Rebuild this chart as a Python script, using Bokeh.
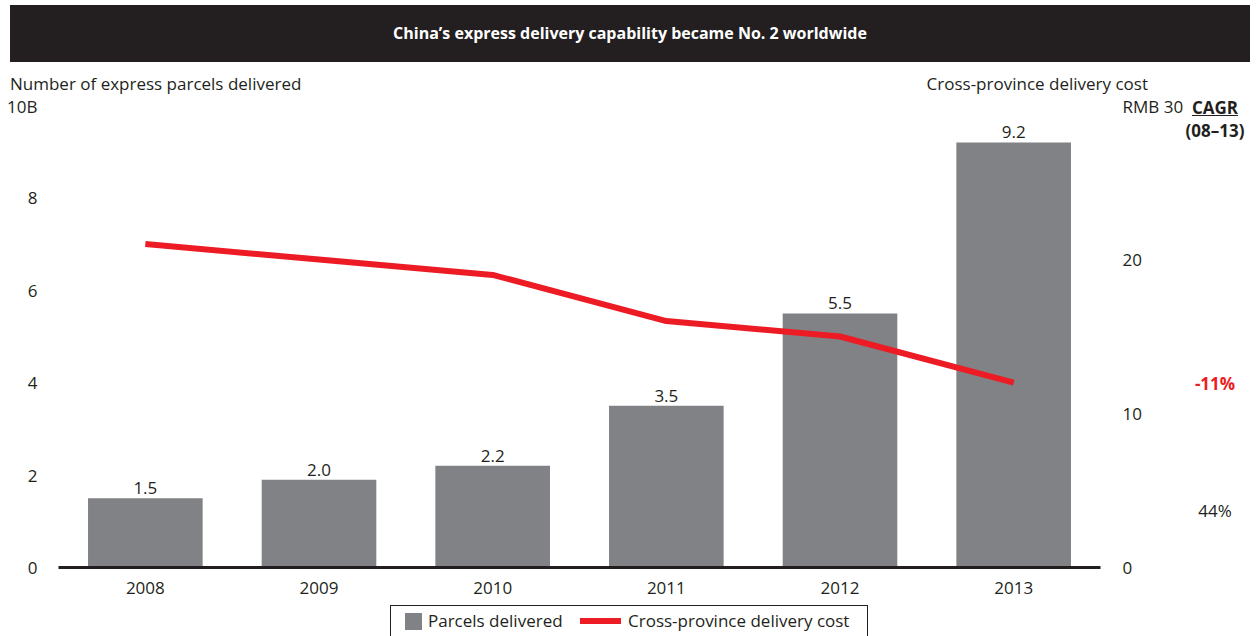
from bokeh.plotting import figure
from bokeh.models import (Range1d, LinearAxis, FixedTicker, ColumnDataSource, Div)
from bokeh.layouts import column, row
from bokeh.embed import file_html
from bokeh.resources import INLINE
from bokeh.core.properties import value

# ---------------- data ----------------
years = ["2008", "2009", "2010", "2011", "2012", "2013"]
parcels = [1.5, 1.9, 2.2, 3.5, 5.5, 9.2]
parcel_labels = ["1.5", "2.0", "2.2", "3.5", "5.5", "9.2"]
cost = [21, 20, 19, 16, 15, 12]
left_ticks = [0, 2, 4, 6, 8, 10]
left_top_label = "10B"
right_ticks = [0, 10, 20, 30]
right_top_label = "RMB 30"
title_text = "China\u2019s express delivery capability became No. 2 worldwide"
left_title = "Number of express parcels delivered"
right_title = "Cross-province delivery cost"
legend_labels = ["Parcels delivered", "Cross-province delivery cost"]
cagr_head = ["CAGR", "(08\u201313)"]
cagr_cost = "-11%"
cagr_parcels = "44%"

FONT = "Open Sans"
DARK = "#231f20"
GRAY = "#808285"
RED = "#ed1c24"

# ---------------- title bar ----------------
title_div = Div(text=title_text, width=1240, height=57, margin=(5, 10, 0, 10),
                styles={"background-color": DARK, "color": "white",
                        "font-family": FONT, "font-weight": "bold",
                        "font-size": "16px", "text-align": "center",
                        "line-height": "57px"})

# ---------------- axis titles line ----------------
sub_html = ('<div style="position:relative;width:1260px;height:32px;">'
            f'<div style="position:absolute;left:10px;top:10px;line-height:24px;white-space:nowrap;">{left_title}</div>'
            f'<div style="position:absolute;right:112px;top:10px;line-height:24px;white-space:nowrap;text-align:right;">{right_title}</div>'
            '</div>')
sub_div = Div(text=sub_html, width=1260, height=32, margin=0,
              styles={"font-family": FONT, "font-size": "17px", "color": DARK})

# ---------------- main figure ----------------
p = figure(x_range=years, y_range=Range1d(0, 10), width=1186, height=504,
           output_backend="svg", toolbar_location=None, margin=0,
           min_border_left=58, min_border_right=76, min_border_top=11,
           min_border_bottom=31)
p.extra_y_ranges = {"cost": Range1d(0, 30)}
p.outline_line_color = None
p.grid.grid_line_color = None

src = ColumnDataSource(dict(x=years, top=parcels, lab=parcel_labels, cost=cost))
bars = p.vbar(x="x", top="top", width=0.66, source=src, color=GRAY, line_color=None)
line = p.line(x="x", y="cost", source=src, y_range_name="cost", line_width=6, color=RED)
p.text(x="x", y="top", text="lab", source=src, y_offset=-4, text_align="center",
       text_baseline="bottom", text_font=value(FONT), text_font_size="17px",
       text_color=DARK)


def style_axis(ax, standoff):
    ax.axis_line_color = None
    ax.major_tick_line_color = None
    ax.minor_tick_line_color = None
    ax.major_label_standoff = standoff
    ax.major_label_text_font = FONT
    ax.major_label_text_font_size = "17px"
    ax.major_label_text_color = DARK


ya = p.yaxis[0]
ya.ticker = FixedTicker(ticks=left_ticks)
ya.major_label_overrides = {left_ticks[-1]: left_top_label}
style_axis(ya, 15)

ra = LinearAxis(y_range_name="cost", ticker=FixedTicker(ticks=right_ticks))
ra.major_label_overrides = {right_ticks[-1]: right_top_label}
style_axis(ra, 16)
ra.major_label_text_align = "center"
p.add_layout(ra, "right")

xa = p.xaxis[0]
style_axis(xa, 8)
xa.axis_line_color = DARK
xa.axis_line_width = 3


# ---------------- CAGR column ----------------
def item(txt, top, extra=""):
    return ('<div style="position:absolute;left:-26px;width:110px;text-align:center;'
            f'top:{top}px;line-height:24px;{extra}">{txt}</div>')


side_html = ('<div style="position:relative;width:74px;height:504px;">'
             + item(cagr_head[0], 2, "font-weight:bold;text-decoration:underline;")
             + item(cagr_head[1], 25, "font-weight:bold;")
             + item(cagr_cost, 278, f"font-weight:bold;color:{RED};")
             + item(cagr_parcels, 405)
             + '</div>')
side_div = Div(text=side_html, width=74, height=504, margin=0,
               styles={"font-family": FONT, "font-size": "17px", "color": DARK})

# ---------------- legend ----------------
legend_html = (
    '<div style="position:relative;width:1260px;height:38px;overflow:hidden;">'
    f'<div style="position:absolute;left:390px;top:7px;width:478px;height:40px;'
    f'border:1px solid {DARK};box-sizing:border-box;">'
    f'<div style="position:absolute;left:14px;top:7px;width:17px;height:17px;background:{GRAY};"></div>'
    f'<div style="position:absolute;left:37px;top:3px;line-height:24px;white-space:nowrap;">{legend_labels[0]}</div>'
    f'<div style="position:absolute;left:189px;top:12px;width:41px;height:6px;background:{RED};"></div>'
    f'<div style="position:absolute;left:237px;top:3px;line-height:24px;white-space:nowrap;">{legend_labels[1]}</div>'
    '</div></div>')
legend_div = Div(text=legend_html, width=1260, height=38, margin=0,
                 styles={"font-family": FONT, "font-size": "17px", "color": DARK})

layout = column(title_div, sub_div, row(p, side_div, spacing=0), legend_div, spacing=0)

open("out.html", "w").write(file_html(layout, INLINE))
